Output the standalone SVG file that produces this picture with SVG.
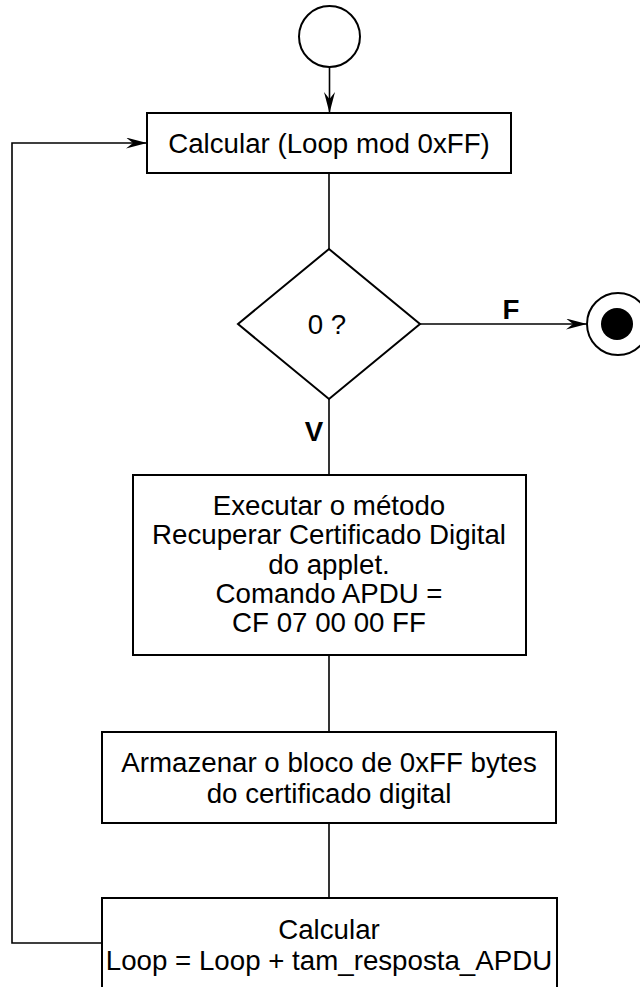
<svg xmlns="http://www.w3.org/2000/svg" width="640" height="987" viewBox="0 0 640 987">
<style>
.s{fill:#fff;stroke:#000;stroke-width:2}
.c{fill:none;stroke:#000;stroke-width:1.6}
text{font-family:"Liberation Sans",Arial,sans-serif;font-size:27.7px;fill:#000;text-anchor:middle}
.b{font-weight:bold}
</style>
<defs>
<marker id="ah" viewBox="0 0 21 11" refX="21" refY="5.5" markerWidth="21" markerHeight="11" markerUnits="userSpaceOnUse" orient="auto">
<path d="M0,0 L21,5.5 L0,11 L7,5.5 z" fill="#000"/>
</marker>
</defs>
<rect width="640" height="987" fill="#fff"/>
<g id="connectors">
<line class="c" x1="329.5" y1="67" x2="329.5" y2="113" marker-end="url(#ah)"/>
<line class="c" x1="329" y1="173" x2="329" y2="249"/>
<line class="c" x1="420" y1="324" x2="587" y2="324" marker-end="url(#ah)"/>
<line class="c" x1="329" y1="399" x2="329" y2="475"/>
<line class="c" x1="329" y1="655" x2="329" y2="732"/>
<line class="c" x1="329" y1="823" x2="329" y2="898"/>
<polyline class="c" points="102,943 12,943 12,143 147,143" marker-end="url(#ah)"/>
<text class="b" x="511" y="319">F</text>
<text class="b" x="314" y="441">V</text>
</g>
<g id="start"><circle class="s" cx="329.5" cy="36.5" r="30.5"/></g>
<g id="calc1">
<rect class="s" x="147" y="113" width="364" height="60"/>
<text x="329" y="153">Calcular (Loop mod 0xFF)</text>
</g>
<g id="decision">
<polygon class="s" points="329,249 420,324 329,399 238,324"/>
<text x="327" y="334">0 ?</text>
</g>
<g id="end">
<circle class="s" cx="618" cy="324" r="31"/>
<circle cx="617" cy="324" r="16" fill="#000"/>
</g>
<g id="exec">
<rect class="s" x="133" y="475" width="393" height="180"/>
<text x="329" y="515">Executar o método</text>
<text x="329" y="544">Recuperar Certificado Digital</text>
<text x="329" y="574">do applet.</text>
<text x="329" y="603">Comando APDU =</text>
<text x="329" y="632">CF 07 00 00 FF</text>
</g>
<g id="store">
<rect class="s" x="102" y="732" width="454" height="91"/>
<text x="329" y="772">Armazenar o bloco de 0xFF bytes</text>
<text x="329" y="803">do certificado digital</text>
</g>
<g id="calc2">
<rect class="s" x="102" y="898" width="455" height="100"/>
<text x="329" y="939">Calcular</text>
<text x="329" y="970">Loop = Loop + tam_resposta_APDU</text>
</g>
</svg>
